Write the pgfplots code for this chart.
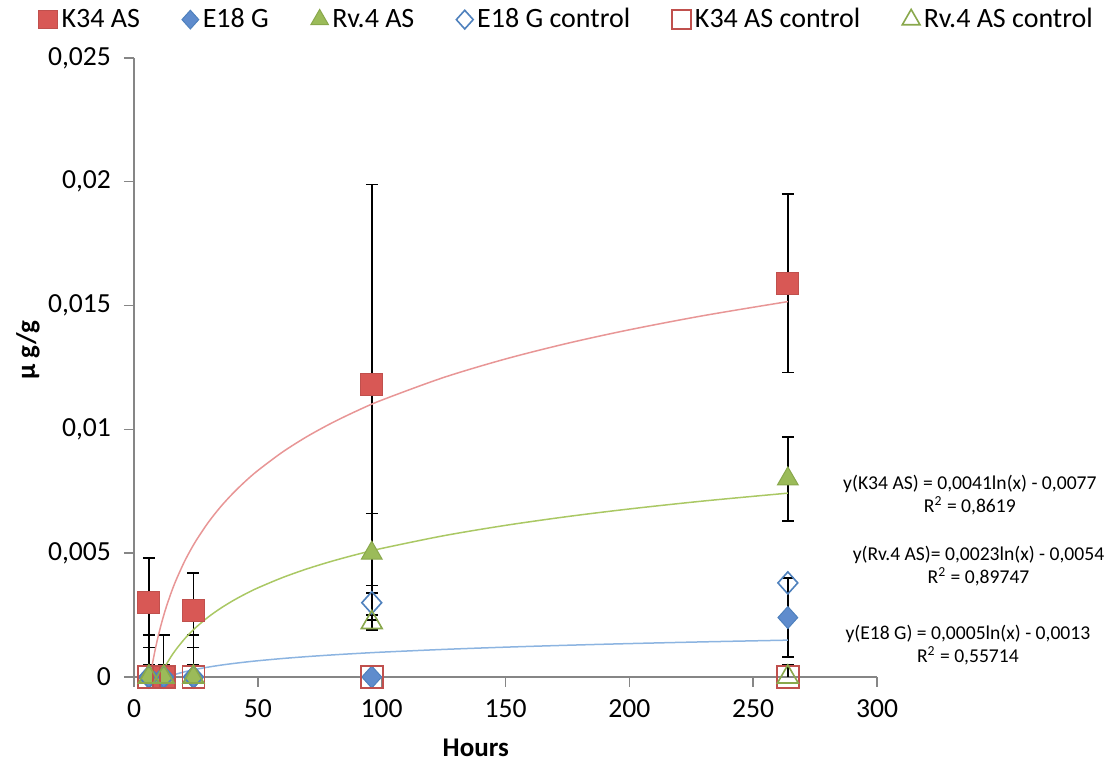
\documentclass[border=0pt]{standalone}
\usepackage{pgfplots}
\pgfplotsset{compat=1.18}
\usepackage{fontspec}
\setmainfont{Carlito}
\definecolor{axgray}{RGB}{134,134,134}
\definecolor{kfill}{RGB}{216,88,85}
\definecolor{kdraw}{RGB}{192,80,77}
\definecolor{bfill}{RGB}{95,140,205}
\definecolor{bdraw}{RGB}{79,129,189}
\definecolor{gfill}{RGB}{155,187,89}
\definecolor{gdraw}{RGB}{137,168,76}
\definecolor{ktrend}{RGB}{232,150,150}
\definecolor{gtrend}{RGB}{170,200,100}
\definecolor{btrend}{RGB}{140,180,225}
\begin{document}
\begin{tikzpicture}
\path (-67pt,-44pt) rectangle (491pt,338.5pt);
\begin{axis}[
  at={(0,0)}, anchor=south west,
  scale only axis, width=371.5pt, height=309.5pt,
  xmin=0, xmax=300, ymin=0, ymax=0.025,
  clip=false,
  axis x line*=bottom, axis y line*=left,
  axis line style={axgray, line width=0.7pt},
  every tick/.style={axgray, line width=0.7pt},
  tick align=outside, major tick length=5pt,
  xtick={0,50,100,150,200,250,300},
  xticklabels={0,50,100,150,200,250,300},
  ytick={0,0.005,0.01,0.015,0.02,0.025},
  yticklabels={0,{0,005},{0,01},{0,015},{0,02},{0,025}},
  scaled y ticks=false,
  tick label style={font=\fontsize{13.8}{15}\selectfont, black},
  yticklabel style={xshift=-3pt},
  xticklabel style={yshift=-3pt},
  xlabel={\textbf{Hours}},
  xlabel style={font=\fontsize{13.5}{15}\selectfont, at={(axis description cs:0.460,0)}, anchor=center, yshift=-35.5pt},
  ylabel={\textbf{µ g/g}},
  ylabel style={font=\fontsize{13.5}{15}\selectfont, at={(axis description cs:0,0.528)}, anchor=center, yshift=53pt},
  legend columns=6,
  legend style={draw=none, fill=none, at={(axis description cs:0.584,1.062)}, anchor=center,
    font=\fontsize{14}{16}\selectfont,
    /tikz/every even column/.append style={column sep=19pt}},
  legend cell align=left,
  legend image code/.code={\draw[mark repeat=2,mark phase=2,#1] plot coordinates {(0pt,0pt)(5pt,0pt)(10pt,0pt)};},
  legend image post style={every mark/.append style={scale=0.85}},
]
% error bars (both directions)
\addplot[draw=none, mark=none, forget plot,
  error bars/.cd, y dir=both, y explicit,
  error bar style={black, line width=0.75pt},
  error mark options={black, line width=0.75pt, mark size=3pt, rotate=90}]
  coordinates {
  (6,0.0030) +- (0,0.0018)
  (24,0.0027) +- (0,0.0015)
  (96,0.0118) +- (0,0.0081)
  (264,0.0159) +- (0,0.0036)
  (96,0.0050) +- (0,0.0016)
  (264,0.0080) +- (0,0.0017)
  (264,0.0024) +- (0,0.0016)
  (96,0.0030) +- (0,0.0007)
  (96,0.0022) +- (0,0.0003)
  };
% error bars (up only, from zero)
\addplot[draw=none, mark=none, forget plot,
  error bars/.cd, y dir=plus, y explicit,
  error bar style={black, line width=0.75pt},
  error mark options={black, line width=0.75pt, mark size=3pt, rotate=90}]
  coordinates {
  (6,0) +- (0,0.0017)
  (12,0) +- (0,0.0017)
  (24,0) +- (0,0.0017)
  (6,0) +- (0,0.0005)
  (12,0) +- (0,0.0005)
  (24,0) +- (0,0.0005)
  (264,0) +- (0,0.0005)
  };
% logarithmic trend lines (points of the fitted equations shown in the chart)
\addplot[ktrend, line width=0.75pt, no marks, smooth, forget plot] coordinates {
  (6.54,0) (7,0.000278) (8,0.000826) (9,0.001309) (10,0.001741) (11,0.002131)
  (12,0.002488) (13,0.002816) (15,0.003403) (17,0.003916) (20,0.004583)
  (22,0.004973) (25,0.005497) (30,0.006245) (35,0.006877) (40,0.007424)
  (45,0.007907) (50,0.008339) (60,0.009087) (70,0.009719) (80,0.010266)
  (90,0.010749) (100,0.011181) (125,0.012096) (150,0.012844) (175,0.013476)
  (200,0.014023) (230,0.014596) (264,0.015161)};
\addplot[gtrend, line width=0.75pt, no marks, smooth, forget plot] coordinates {
  (10.46,0) (11,0.000115) (12,0.000315) (13,0.000499) (15,0.000829)
  (17,0.001116) (20,0.00149) (22,0.001709) (25,0.002003) (30,0.002423)
  (35,0.002777) (40,0.003084) (45,0.003355) (50,0.003598) (60,0.004017)
  (70,0.004372) (80,0.004679) (90,0.00495) (100,0.005192)
  (125,0.005705) (150,0.006124) (175,0.006479) (200,0.006786) (230,0.007108)
  (264,0.007425)};
\addplot[btrend, line width=0.75pt, no marks, smooth, forget plot] coordinates {
  (13.46,0) (15,0.000054) (17,0.000117) (20,0.000198) (22,0.000246)
  (25,0.00031) (30,0.0004) (35,0.000478) (40,0.000544) (45,0.000603)
  (50,0.000656) (60,0.000747) (70,0.000824) (80,0.000891) (90,0.00095)
  (100,0.001003) (125,0.001114)
  (150,0.001205) (175,0.001282) (200,0.001349) (230,0.001419) (264,0.001488)};
% series
\addplot[only marks, mark=square*, mark size=5.5pt, mark options={fill=kfill, draw=kdraw, line width=0.5pt}]
  coordinates {(6,0.0030) (12,0) (24,0.0027) (96,0.0118) (264,0.0159)};
\addlegendentry{K34 AS}
\addplot[only marks, mark=diamond*, mark size=5.5pt, mark options={fill=bfill, draw=bdraw, line width=0.5pt, xscale=1.2}]
  coordinates {(6,0) (12,0) (24,0) (96,0) (264,0.0024)};
\addlegendentry{E18 G}
\addplot[only marks, mark=triangle*, mark size=6pt, mark options={fill=gfill, draw=gdraw, line width=0.5pt}]
  coordinates {(6,0) (12,0) (24,0) (96,0.0050) (264,0.0080)};
\addlegendentry{Rv.4 AS}
\addplot[only marks, mark=diamond, mark size=5.5pt, mark options={draw=bdraw, line width=0.8pt, xscale=1.2}]
  coordinates {(6,0) (12,0) (24,0) (96,0.0030) (264,0.0038)};
\addlegendentry{E18 G control}
\addplot[only marks, mark=square, mark size=5.5pt, mark options={draw=kdraw, line width=0.8pt}]
  coordinates {(6,0) (12,0) (24,0) (96,0) (264,0)};
\addlegendentry{K34 AS control}
\addplot[only marks, mark=triangle, mark size=6pt, mark options={draw=gdraw, line width=0.8pt}]
  coordinates {(6,0) (12,0) (24,0) (96,0.0022) (264,0)};
\addlegendentry{Rv.4 AS control}
% trend line equations
\node[align=center, font=\fontsize{9.8}{11.5}\selectfont] at (axis cs:337.5,0.00735)
  {y(K34 AS) = 0,0041ln(x) - 0,0077\\R\textsuperscript{2} = 0,8619};
\node[align=center, font=\fontsize{9.8}{11.5}\selectfont] at (axis cs:341,0.00448)
  {y(Rv.4 AS)= 0,0023ln(x) - 0,0054\\R\textsuperscript{2} = 0,89747};
\node[align=center, font=\fontsize{9.8}{11.5}\selectfont] at (axis cs:336.7,0.00127)
  {y(E18 G) = 0,0005ln(x) - 0,0013\\R\textsuperscript{2} = 0,55714};
\end{axis}
\end{tikzpicture}
\end{document}
